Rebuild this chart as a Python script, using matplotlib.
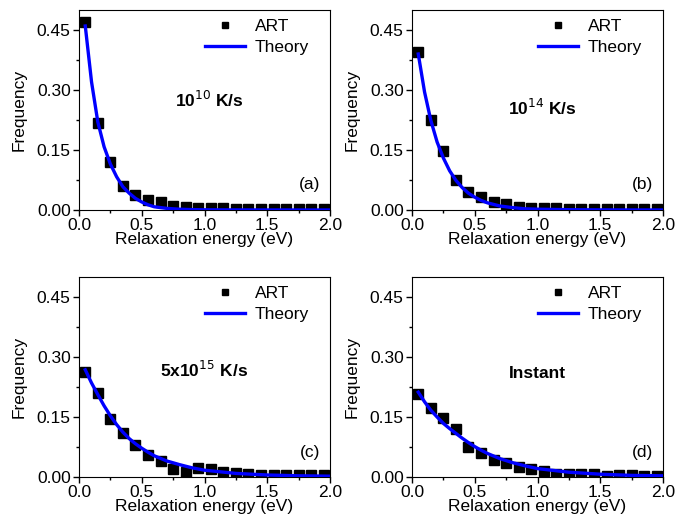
import matplotlib
matplotlib.use("Agg")
import matplotlib.pyplot as plt
from matplotlib.ticker import MultipleLocator

plt.rcParams['font.family'] = ['Liberation Sans', 'DejaVu Sans']

# ART histogram bin centres (eV)
art_x = [0.05, 0.15, 0.25, 0.35, 0.45, 0.55, 0.65, 0.75, 0.85, 0.95,
         1.05, 1.15, 1.25, 1.35, 1.45, 1.55, 1.65, 1.75, 1.85, 1.95]

art_a = [0.470, 0.217, 0.121, 0.060, 0.037, 0.025, 0.019, 0.010, 0.007, 0.006,
         0.006, 0.004, 0.003, 0.003, 0.003, 0.002, 0.002, 0.002, 0.002, 0.002]
art_b = [0.396, 0.225, 0.148, 0.075, 0.046, 0.033, 0.021, 0.015, 0.008, 0.005,
         0.004, 0.004, 0.003, 0.003, 0.003, 0.003, 0.003, 0.003, 0.003, 0.003]
art_c = [0.262, 0.210, 0.146, 0.110, 0.081, 0.055, 0.039, 0.021, 0.012, 0.022,
         0.021, 0.012, 0.010, 0.008, 0.006, 0.004, 0.004, 0.004, 0.004, 0.004]
art_d = [0.207, 0.172, 0.147, 0.120, 0.076, 0.061, 0.043, 0.036, 0.025, 0.020,
         0.014, 0.008, 0.008, 0.008, 0.008, 0.003, 0.005, 0.006, 0.003, 0.003]

# theory curves
th_x = [0.05, 0.10, 0.15, 0.20, 0.25, 0.30, 0.35, 0.40, 0.45, 0.50, 0.55,
        0.60, 0.70, 0.80, 0.90, 1.00, 1.25, 1.50, 1.75, 2.00]
th_a = [0.460, 0.320, 0.220, 0.158, 0.115, 0.083, 0.058, 0.042, 0.029, 0.020, 0.013,
        0.008, 0.004, 0.002, 0.001, 0.0005, 0.0002, 0.0001, 0.0, 0.0]
th_b = [0.390, 0.295, 0.224, 0.170, 0.130, 0.098, 0.074, 0.056, 0.042, 0.032, 0.024,
        0.018, 0.010, 0.006, 0.003, 0.002, 0.0008, 0.0003, 0.0001, 0.0]
th_c = [0.268, 0.235, 0.206, 0.178, 0.153, 0.131, 0.112, 0.096, 0.083, 0.072, 0.062,
        0.053, 0.040, 0.031, 0.023, 0.017, 0.009, 0.005, 0.003, 0.002]
th_d = [0.212, 0.188, 0.167, 0.150, 0.134, 0.121, 0.109, 0.097, 0.086, 0.076, 0.067,
        0.059, 0.046, 0.036, 0.028, 0.021, 0.012, 0.007, 0.004, 0.003]

rate_labels = [r'10$^{10}$ K/s', r'10$^{14}$ K/s', r'5x10$^{15}$ K/s', 'Instant']
panel_labels = ['(a)', '(b)', '(c)', '(d)']
art_sets = [art_a, art_b, art_c, art_d]
th_sets = [th_a, th_b, th_c, th_d]

fig = plt.figure(figsize=(6.78, 5.26), dpi=100)
W, H = 678, 526
# axes boxes in pixels: left, top, right, bottom
boxes = [(79, 10, 330, 210), (412, 10, 663, 210),
         (79, 277, 330, 477), (412, 277, 663, 477)]
text_pos = [(0.52, 0.55), (0.52, 0.51), (0.50, 0.535), (0.50, 0.52)]

for i in range(4):
    l, t, r, b = boxes[i]
    ax = fig.add_axes([l / W, 1 - b / H, (r - l) / W, (b - t) / H])
    ax.plot(art_x, art_sets[i], 's', color='black', markersize=6.5, label='ART',
            zorder=2)
    ax.plot(th_x, th_sets[i], '-', color='#0000ff', linewidth=2.4, label='Theory',
            zorder=3)
    ax.set_xlim(0, 2.0)
    ax.set_ylim(0, 0.5)
    ax.xaxis.set_minor_locator(MultipleLocator(0.25))
    ax.yaxis.set_minor_locator(MultipleLocator(0.075))
    ax.set_yticks([0, 0.15, 0.30, 0.45])
    ax.set_yticklabels(['0.00', '0.15', '0.30', '0.45'])
    ax.set_xticks([0, 0.5, 1.0, 1.5, 2.0])
    ax.set_xticklabels(['0.0', '0.5', '1.0', '1.5', '2.0'])
    ax.tick_params(which='both', direction='out', labelsize=12.5, top=False, right=False,
                   pad=2)
    ax.tick_params(which='major', length=4, width=1)
    ax.tick_params(which='minor', length=2.5, width=1)
    ax.set_xlabel('Relaxation energy (eV)', fontsize=12.5, labelpad=-1)
    ax.set_ylabel('Frequency', fontsize=12.5, labelpad=7)
    ax.legend(loc='upper right', bbox_to_anchor=(0.945, 0.99), frameon=False,
              fontsize=12.5, handlelength=2.3, handletextpad=0.6, borderaxespad=0,
              labelspacing=0.35, markerscale=0.75)
    ax.text(text_pos[i][0], text_pos[i][1], rate_labels[i], transform=ax.transAxes,
            ha='center', va='center', fontsize=12.5, fontweight='bold')
    ax.text(0.96, 0.125, panel_labels[i], transform=ax.transAxes,
            ha='right', va='center', fontsize=12.5)

fig.savefig('out.png', dpi=100)
